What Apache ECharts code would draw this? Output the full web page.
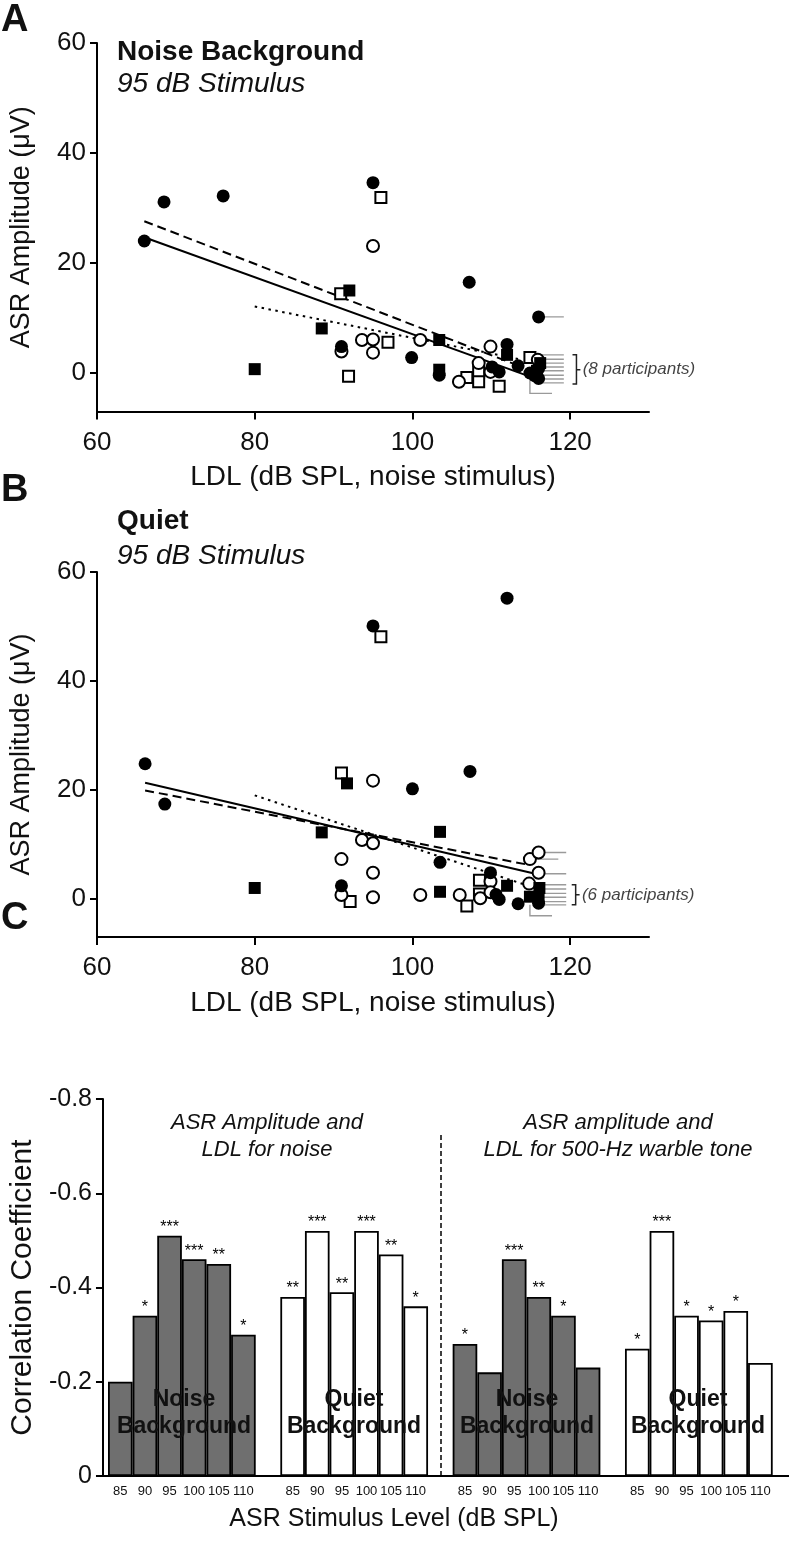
<!DOCTYPE html>
<html><head><meta charset="utf-8">
<script src="https://cdn.jsdelivr.net/npm/echarts@6/dist/echarts.min.js"></script>
<style>html,body{margin:0;padding:0;background:#fff}#c{width:789px;height:1544px}</style>
</head><body><div id="c"></div>
<script>
// ---------- Panel A (Noise background) ----------
const aFilledCircles = [[66,24.0],[68.5,31.1],[76,32.2],[91,4.8],[95,34.6],[99.9,2.8],[103.4,-0.4],[107.2,16.5],[110.1,1.1],[111,0.2],[112,5.2],[113.4,1.3],[116,10.2],[114.9,0],[116,-1.0],[116,0.8],[115.5,-0.5]];
const aOpenCircles = [[91,3.9],[93.6,6.0],[95,6.1],[95,3.7],[95,23.1],[101,6.0],[105.9,-1.6],[108.4,1.8],[109.9,4.8],[109.9,0.2],[115.9,2.4]];
const aFilledSquares = [[80,0.7],[88.5,8.1],[92,15.0],[103.4,6.0],[103.4,0.6],[112,3.3],[116.2,1.8],[115.8,0.4]];
const aOpenSquares = [[90.9,14.4],[91.9,-0.6],[96,31.9],[96.9,5.6],[106.9,-0.8],[108.4,0.2],[108.4,-1.6],[111,-2.4],[114.9,2.8]];
const aFitSolid = [[66.5,24.4],[115,-0.7]];
const aFitDashed = [[66,27.6],[113.5,1.3]];
const aFitDotted = [[80,12.1],[113.6,2.5]];
const aArrows = [[[116.7,10.2],[119.2,10.2]],[[116.4,3.3],[119.2,3.3]],[[116.4,2.5],[119.2,2.5]],[[116.4,1.8],[119.2,1.8]],[[116.4,1.1],[119.2,1.1]],[[116.4,0.4],[119.2,0.4]],[[116.4,-0.4],[119.2,-0.4]],[[116.4,-1.1],[119.2,-1.1]],[[116.4,-1.8],[119.2,-1.8]],[[114.9,-0.2],[114.9,-3.7],[117.7,-3.7]]];
const aBracket = [[[120.3,3.3],[120.8,3.3],[120.8,-2.0],[120.3,-2.0]],[[120.8,0.6],[121.3,0.6]]];
const aNote = [[121.4,0.6]];
const aNoteText = '(8 participants)';

// ---------- Panel B (Quiet) ----------
const bFilledCircles = [[66.1,24.8],[68.6,17.4],[95,50.1],[112,55.2],[100,20.2],[107.3,23.4],[103.5,6.7],[91,2.4],[109.9,4.8],[111,-0.1],[110.6,0.8],[113.4,-0.9],[116,-0.8]];
const bOpenCircles = [[91,7.3],[93.6,10.8],[95,10.2],[95,21.7],[95,4.8],[91,0.7],[95,0.3],[101,0.7],[106,0.7],[108.6,0.1],[109.9,3.2],[109.9,1.2],[114.8,2.8],[116,4.8],[114.9,7.3],[116,8.5]];
const bFilledSquares = [[80,2.0],[88.5,12.2],[91.7,21.2],[103.5,12.3],[103.5,1.3],[112,2.4],[114.9,0.4],[116.1,2.0],[116,0.2]];
const bOpenSquares = [[91,23.1],[96,48.1],[92.1,-0.5],[106.9,-1.3],[108.5,3.4],[108.5,0.9]];
const bFitSolid = [[66.1,21.3],[115.3,4.7]];
const bFitDashed = [[66.1,19.9],[114.9,6.2]];
const bFitDotted = [[80,19.0],[114.9,2.3]];
const bArrows = [[[116.4,8.5],[119.5,8.5]],[[115.3,7.3],[118.5,7.3]],[[116.4,4.6],[119.5,4.6]],[[116.4,2.6],[119.5,2.6]],[[116.4,1.8],[119.5,1.8]],[[116.4,1.0],[119.5,1.0]],[[116.4,0.3],[119.5,0.3]],[[116.4,-0.5],[119.5,-0.5]],[[116.4,-1.1],[119.5,-1.1]],[[114.9,-1.1],[114.9,-3.1],[117.7,-3.1]]];
const bBracket = [[[120.2,2.6],[120.7,2.6],[120.7,-1.1],[120.2,-1.1]],[[120.7,0.75],[121.2,0.75]]];
const bNote = [[121.3,0.75]];
const bNoteText = '(6 participants)';

const scatterXTicks = [60,80,100,120];
const scatterYTicks = [0,20,40,60];

// ---------- Panel C (correlations) ----------
const levels = ['85','90','95','100','105','110'];
const noiseBgNoiseLDL = [-0.20,-0.34,-0.51,-0.46,-0.45,-0.30];
const quietBgNoiseLDL = [-0.38,-0.52,-0.39,-0.52,-0.47,-0.36];
const noiseBgToneLDL  = [-0.28,-0.22,-0.46,-0.38,-0.34,-0.23];
const quietBgToneLDL  = [-0.27,-0.52,-0.34,-0.33,-0.35,-0.24];
const starsNoiseBgNoiseLDL = ['','*','***','***','**','*'];
const starsQuietBgNoiseLDL = ['**','***','**','***','**','*'];
const starsNoiseBgToneLDL  = ['*','','***','**','*',''];
const starsQuietBgToneLDL  = ['*','***','*','*','*',''];

const FONT = '"Liberation Sans", Arial, Helvetica, sans-serif';
const GRAY = '#6f6f6f';

// build category axis (4 groups of 6 with 1 empty slot between groups)
const groups = [noiseBgNoiseLDL, quietBgNoiseLDL, noiseBgToneLDL, quietBgToneLDL];
const groupStars = [starsNoiseBgNoiseLDL, starsQuietBgNoiseLDL, starsNoiseBgToneLDL, starsQuietBgToneLDL];
const groupFill = [GRAY, '#ffffff', GRAY, '#ffffff'];
const cats = [];
groups.forEach((g, gi) => { levels.forEach(l => cats.push(l)); if (gi < groups.length - 1) cats.push(''); });
const slot = (gi, i) => gi * (levels.length + 1) + i;

const barSeries = groups.map((vals, gi) => {
  const data = cats.map(() => '-');
  vals.forEach((v, i) => { data[slot(gi, i)] = v; });
  const s = {
    type: 'bar', xAxisIndex: 3, yAxisIndex: 3, data,
    barGap: '-100%', barCategoryGap: '0%',
    itemStyle: { color: groupFill[gi], borderColor: '#000', borderWidth: 1.8 },
    label: { show: true, position: 'top', distance: 0, color: '#000', fontSize: 16, fontFamily: FONT,
      formatter: p => groupStars[gi][p.dataIndex - slot(gi, 0)] || '' },
    silent: true
  };
  if (gi === 1) {
    s.markLine = { silent: true, symbol: 'none', label: { show: false },
      lineStyle: { color: '#000', type: [5, 3], width: 1.5 },
      data: [[{ coord: [slot(1, levels.length), 0] }, { coord: [slot(1, levels.length), -0.73] }]] };
  }
  return s;
});

function scatterPanel(idx, fc, oc, fs, os, fits, arrows, bracket, note, noteText) {
  const common = { xAxisIndex: idx, yAxisIndex: idx, silent: true };
  const fitStyles = [{ type: 'solid' }, { type: [9, 5] }, { type: [2.5, 4.5] }];
  const out = [];
  fits.forEach((f, k) => out.push(Object.assign({ type: 'line', data: f, showSymbol: false, z: 1,
    lineStyle: Object.assign({ color: '#000', width: 2 }, fitStyles[k]) }, common)));
  out.push(Object.assign({ type: 'lines', coordinateSystem: 'cartesian2d', polyline: true, z: 1,
    symbol: ['none', 'arrow'], symbolSize: 7,
    lineStyle: { color: '#9a9a9a', width: 1.4, opacity: 1 },
    data: arrows.map(c => ({ coords: c })) }, common));
  out.push(Object.assign({ type: 'scatter', data: os, symbol: 'rect', symbolSize: 11, z: 3,
    itemStyle: { color: '#fff', borderColor: '#000', borderWidth: 2, opacity: 1 } }, common));
  out.push(Object.assign({ type: 'scatter', data: oc, symbol: 'circle', symbolSize: 12, z: 3,
    itemStyle: { color: '#fff', borderColor: '#000', borderWidth: 2, opacity: 1 } }, common));
  out.push(Object.assign({ type: 'scatter', data: fs, symbol: 'rect', symbolSize: 12, z: 4,
    itemStyle: { color: '#000', opacity: 1 } }, common));
  out.push(Object.assign({ type: 'scatter', data: fc, symbol: 'circle', symbolSize: 13, z: 4,
    itemStyle: { color: '#000', opacity: 1 } }, common));
  out.push(Object.assign({ type: 'lines', coordinateSystem: 'cartesian2d', polyline: true, z: 2,
    symbol: 'none', lineStyle: { color: '#222', width: 1.5, opacity: 1 },
    data: bracket.map(c => ({ coords: c })) }, common));
  out.push(Object.assign({ type: 'scatter', data: note, symbol: 'circle', symbolSize: 1,
    itemStyle: { color: 'rgba(0,0,0,0)' },
    label: { show: true, position: 'right', distance: 1, formatter: noteText, fontStyle: 'italic',
      fontSize: 17, color: '#111', fontFamily: FONT } }, common));
  return out;
}

const axisLine = { show: true, onZero: false, lineStyle: { color: '#000', width: 2 } };
function scatterX(gridIndex) {
  return { gridIndex, type: 'value', min: 60, max: 130, axisLine,
    axisTick: { show: true, length: 8, lineStyle: { color: '#000', width: 2 }, customValues: scatterXTicks },
    axisLabel: { customValues: scatterXTicks, fontSize: 26, color: '#111', margin: 18, fontFamily: FONT },
    splitLine: { show: false },
    name: 'LDL (dB SPL, noise stimulus)', nameLocation: 'middle', nameGap: 52,
    nameTextStyle: { fontSize: 28, color: '#111', fontFamily: FONT } };
}
function scatterY(gridIndex) {
  return { gridIndex, type: 'value', min: -7, max: 60, axisLine,
    axisTick: { show: true, length: 7, lineStyle: { color: '#000', width: 2 }, customValues: scatterYTicks },
    axisLabel: { customValues: scatterYTicks, fontSize: 26, color: '#111', margin: 11, fontFamily: FONT },
    splitLine: { show: false },
    name: 'ASR Amplitude (μV)', nameLocation: 'middle', nameGap: 62,
    nameTextStyle: { fontSize: 27, color: '#111', fontFamily: FONT } };
}

const txt = (text, x, y, font, align) => ({ type: 'text', x, y, z: 100, zlevel: 1, silent: true,
  style: { text, font, fill: '#111', textAlign: align || 'left', textVerticalAlign: 'middle' } });

const option = {
  animation: false,
  backgroundColor: '#fff',
  grid: [
    { left: 97, top: 43, width: 552, height: 368.5 },
    { left: 97, top: 572, width: 552, height: 365 },
    { left: 95, top: 1099, width: 694, height: 377 },
    { left: 108, top: 1099, width: 664.7, height: 377 }
  ],
  xAxis: [
    scatterX(0), scatterX(1),
    { gridIndex: 2, type: 'value', min: 0, max: 1, axisLine, axisTick: { show: false }, axisLabel: { show: false }, splitLine: { show: false } },
    { gridIndex: 3, type: 'category', data: cats, axisLine: { show: false }, axisTick: { show: false },
      axisLabel: { interval: 0, fontSize: 13, color: '#111', margin: 9, fontFamily: FONT } }
  ],
  yAxis: [
    scatterY(0), scatterY(1),
    { gridIndex: 2, type: 'value', min: -0.8, max: 0, interval: 0.2, inverse: true, axisLine,
      axisTick: { show: true, length: 7, lineStyle: { color: '#000', width: 2 } },
      axisLabel: { fontSize: 25, color: '#111', margin: 11, fontFamily: FONT,
        formatter: v => Math.abs(v) < 1e-9 ? '0' : v.toFixed(1) },
      splitLine: { show: false },
      name: 'Correlation Coefficient', nameLocation: 'middle', nameGap: 63,
      nameTextStyle: { fontSize: 30, color: '#111', fontFamily: FONT } },
    { gridIndex: 3, type: 'value', min: -0.8, max: 0, inverse: true, show: false, splitLine: { show: false } }
  ],
  series: [].concat(
    scatterPanel(0, aFilledCircles, aOpenCircles, aFilledSquares, aOpenSquares, [aFitSolid, aFitDashed, aFitDotted], aArrows, aBracket, aNote, aNoteText),
    scatterPanel(1, bFilledCircles, bOpenCircles, bFilledSquares, bOpenSquares, [bFitSolid, bFitDashed, bFitDotted], bArrows, bBracket, bNote, bNoteText),
    barSeries
  ),
  graphic: [
    txt('A', 1, 21, 'bold 38px ' + FONT),
    txt('Noise Background', 117, 52, 'bold 28px ' + FONT),
    txt('95 dB Stimulus', 117, 84, 'italic 28px ' + FONT),
    txt('B', 1, 491, 'bold 38px ' + FONT),
    txt('Quiet', 117, 521, 'bold 28px ' + FONT),
    txt('95 dB Stimulus', 117, 556, 'italic 28px ' + FONT),
    txt('C', 1, 919, 'bold 38px ' + FONT),
    txt('ASR Amplitude and', 267, 1123, 'italic 22px ' + FONT, 'center'),
    txt('LDL for noise', 267, 1150, 'italic 22px ' + FONT, 'center'),
    txt('ASR amplitude and', 618, 1123, 'italic 22px ' + FONT, 'center'),
    txt('LDL for 500-Hz warble tone', 618, 1150, 'italic 22px ' + FONT, 'center'),
    txt('Noise', 184, 1400, 'bold 23px ' + FONT, 'center'),
    txt('Background', 184, 1427, 'bold 23px ' + FONT, 'center'),
    txt('Quiet', 354, 1400, 'bold 23px ' + FONT, 'center'),
    txt('Background', 354, 1427, 'bold 23px ' + FONT, 'center'),
    txt('Noise', 527, 1400, 'bold 23px ' + FONT, 'center'),
    txt('Background', 527, 1427, 'bold 23px ' + FONT, 'center'),
    txt('Quiet', 698, 1400, 'bold 23px ' + FONT, 'center'),
    txt('Background', 698, 1427, 'bold 23px ' + FONT, 'center'),
    txt('ASR Stimulus Level (dB SPL)', 394, 1519, '25px ' + FONT, 'center')
  ]
};
const chart = echarts.init(document.getElementById('c'), null, { renderer: 'canvas' });
chart.setOption(option);
</script></body></html>
